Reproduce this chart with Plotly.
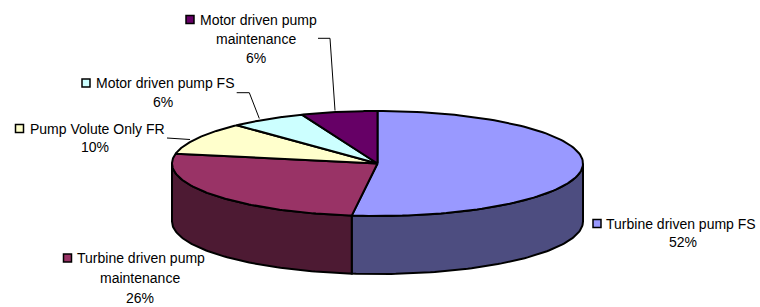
import numpy as np
import plotly.graph_objects as go

# ---- data ----
categories = ["Turbine driven pump FS", "Turbine driven pump maintenance",
              "Pump Volute Only FR", "Motor driven pump FS", "Motor driven pump maintenance"]
values = [52, 26, 10, 6, 6]
top_colors = ["#9999FF", "#993366", "#FFFFCC", "#CCFFFF", "#660066"]
side_colors = ["#4D4D80", "#4D1A33", "#80806A", "#6A8080", "#330033"]

# ---- geometry of the 3D pie (pixel space) ----
W, H = 760, 307
cx, cy = 377.5, 163.5
a, b = 205.5, 52.5
depth = 58

def ell(theta_deg, dy=0.0):
    t = np.radians(theta_deg)
    return cx + a * np.sin(t), cy - b * np.cos(t) + dy

total = float(sum(values))
bounds = np.concatenate([[0], np.cumsum(values) / total * 360.0])

fig = go.Figure()
LINE = dict(color="black", width=2)

# sides (front half: 90..270 deg)
for i in range(len(values)):
    t0, t1 = max(bounds[i], 90.0), min(bounds[i + 1], 270.0)
    if t1 <= t0:
        continue
    ts = np.linspace(t0, t1, 80)
    xt, yt = ell(ts)
    xb, yb = ell(ts[::-1], depth)
    xs = np.concatenate([xt, xb, [xt[0]]])
    ys = np.concatenate([yt, yb, [yt[0]]])
    fig.add_trace(go.Scatter(x=xs, y=ys, mode="lines", fill="toself",
                             fillcolor=side_colors[i], line=LINE,
                             hoverinfo="skip", showlegend=False))

# tops
for i in range(len(values)):
    ts = np.linspace(bounds[i], bounds[i + 1], 120)
    xt, yt = ell(ts)
    xs = np.concatenate([[cx], xt, [cx]])
    ys = np.concatenate([[cy], yt, [cy]])
    fig.add_trace(go.Scatter(x=xs, y=ys, mode="lines", fill="toself",
                             fillcolor=top_colors[i], line=LINE,
                             hoverinfo="skip", showlegend=False,
                             name=categories[i]))

# ---- labels ----
FONT = dict(family="Liberation Sans, Arial, sans-serif", size=14, color="black")
pct = [f"{v}%" for v in values]

label_layout = {
    0: dict(key=(593, 223.5), lines=[("Turbine driven pump FS", 604, 223.5, "left"),
                                     (pct[0], 683, 242, "center")]),
    1: dict(key=(63.5, 258), lines=[("Turbine driven pump", 75, 258, "left"),
                                    ("maintenance", 140, 278, "center"),
                                    (pct[1], 140, 298, "center")]),
    2: dict(key=(15.5, 128.5), lines=[("Pump Volute Only FR", 28, 128.5, "left"),
                                      (pct[2], 95, 147, "center")]),
    3: dict(key=(82, 83), lines=[("Motor driven pump FS", 94, 83, "left"),
                                 (pct[3], 163, 101.5, "center")]),
    4: dict(key=(186, 19.5), lines=[("Motor driven pump", 198, 19.5, "left"),
                                    ("maintenance", 256, 39, "center"),
                                    (pct[4], 256, 58, "center")]),
}

for i, lay in label_layout.items():
    kx, ky = lay["key"]
    fig.add_shape(type="rect", x0=kx, x1=kx + 8, y0=ky - 4, y1=ky + 4,
                  fillcolor=top_colors[i], line=dict(color="black", width=1.5),
                  xref="x", yref="y")
    for txt, x, y, anc in lay["lines"]:
        fig.add_annotation(x=x, y=y, text=txt, showarrow=False, xanchor=anc,
                           yanchor="middle", font=FONT, xref="x", yref="y")

# leader lines
leaders = [
    [(318, 38.3), (330, 38.3), (335, 110.5)],
    [(236.7, 92.7), (249.3, 92.7), (259.3, 118.5)],
    [(167, 138), (190, 139.5)],
]
for pts in leaders:
    for (x0, y0), (x1, y1) in zip(pts[:-1], pts[1:]):
        fig.add_shape(type="line", x0=x0, y0=y0, x1=x1, y1=y1,
                      line=dict(color="black", width=1), xref="x", yref="y")

fig.update_layout(
    width=W, height=H, margin=dict(l=0, r=0, t=0, b=0),
    paper_bgcolor="white", plot_bgcolor="white",
    xaxis=dict(range=[0, W], visible=False, fixedrange=True),
    yaxis=dict(range=[H, 0], visible=False, fixedrange=True),
    showlegend=False,
)
fig.write_html("out.html", config={"displayModeBar": False},
               post_script="document.body.style.margin='0';document.body.style.overflow='hidden';")
